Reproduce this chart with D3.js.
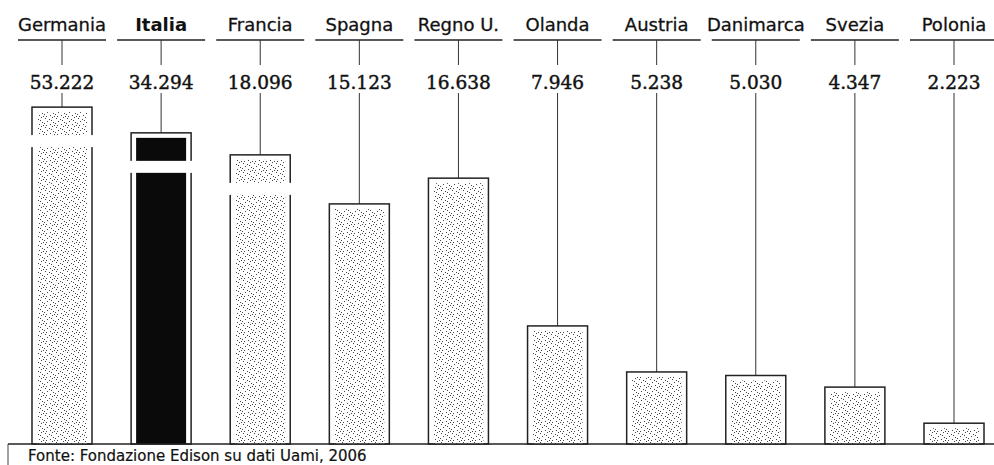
<!DOCTYPE html>
<html><head><meta charset="utf-8">
<script src="https://cdn.jsdelivr.net/npm/d3@7"></script>
<style>body{margin:0;background:#fff}svg{display:block}</style>
</head><body>
<script>
const categories = ["Germania","Italia","Francia","Spagna","Regno U.","Olanda","Austria","Danimarca","Svezia","Polonia"];
const values = [53222, 34294, 18096, 15123, 16638, 7946, 5238, 5030, 4347, 2223];
const valueLabels = ["53.222","34.294","18.096","15.123","16.638","7.946","5.238","5.030","4.347","2.223"];
const highlight = "Italia";
const sourceText = "Fonte: Fondazione Edison su dati Uami, 2006";

const W = 994, H = 465;
const svg = d3.select("body").append("svg").attr("width", W).attr("height", H);

// stipple pattern
const defs = svg.append("defs");
const pat = defs.append("pattern").attr("id","stip").attr("patternUnits","userSpaceOnUse")
  .attr("width",11).attr("height",9);
pat.append("rect").attr("width",11).attr("height",9).attr("fill","#fff");
[[1,1],[5,2],[8,0],[3,4],[9,5],[0,6],[6,7],[2,8],[7,3],[10,8]].forEach(p=>{
  pat.append("rect").attr("x",p[0]).attr("y",p[1]).attr("width",1).attr("height",1).attr("fill","#444");
});

const x = d3.scalePoint().domain(categories).range([62, 954]);
// broken axis: linear up to 18.000, compressed above
const y = d3.scaleLinear().domain([1000, 18000, 60000]).range([444, 155, 97.9]);
const breakAt = 18000;
const bw = 60, inset = 5;
const underlineY = 40, valueY = 89;

const g = svg.append("g");
categories.forEach((c,i)=>{
  const cx = x(c), v = values[i], top = y(v), x0 = cx - bw/2;
  const hi = c === highlight;
  // header label
  g.append("text").attr("x",cx).attr("y",31).attr("text-anchor","middle")
    .attr("font-family","DejaVu Sans").attr("font-size",18)
    .attr("font-weight", hi ? "bold" : "normal").attr("fill","#111")
    .attr("stroke","#111").attr("stroke-width", hi ? 0 : 0.3).text(c);
  g.append("line").attr("x1",cx-44).attr("x2",cx+44).attr("y1",underlineY).attr("y2",underlineY)
    .attr("stroke","#222").attr("stroke-width",1.5);
  g.append("line").attr("x1",cx).attr("x2",cx).attr("y1",underlineY).attr("y2",65)
    .attr("stroke","#333").attr("stroke-width",1);
  g.append("text").attr("x",cx).attr("y",valueY).attr("text-anchor","middle")
    .attr("font-family","DejaVu Serif").attr("font-size",18.5).attr("fill","#111")
    .attr("stroke","#111").attr("stroke-width",0.45).text(valueLabels[i]);
  g.append("line").attr("x1",cx).attr("x2",cx).attr("y1",93).attr("y2",top)
    .attr("stroke","#333").attr("stroke-width",1);
  // bar
  g.append("rect").attr("x",x0).attr("y",top).attr("width",bw).attr("height",444-top)
    .attr("fill","#fff").attr("stroke","#222").attr("stroke-width",1.5);
  g.append("rect").attr("x",x0+inset).attr("y",top+inset).attr("width",bw-2*inset).attr("height",444-top-inset)
    .attr("fill", hi ? "#0a0a0a" : "url(#stip)");
  if (v > breakAt) {
    g.append("rect").attr("x",x0-2).attr("y",top+28).attr("width",bw+4).attr("height",12).attr("fill","#fff");
  }
});

// baseline and source frame
svg.append("line").attr("x1",8).attr("x2",W).attr("y1",444).attr("y2",444).attr("stroke","#222").attr("stroke-width",1.5);
svg.append("line").attr("x1",8).attr("x2",8).attr("y1",444).attr("y2",H).attr("stroke","#444").attr("stroke-width",1);
svg.append("text").attr("x",28).attr("y",461).attr("font-family","DejaVu Sans").attr("font-size",15)
  .attr("fill","#111").attr("stroke","#111").attr("stroke-width",0.2).text(sourceText);
</script>
</body></html>
